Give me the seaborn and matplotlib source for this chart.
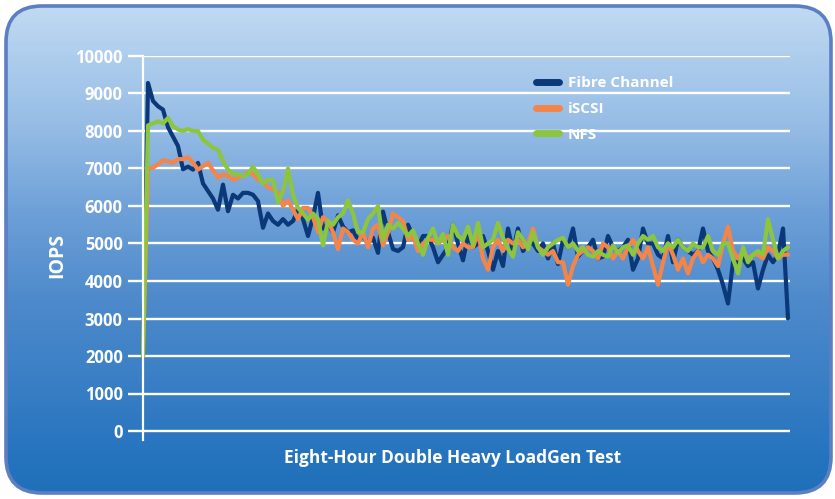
import numpy as np
import pandas as pd
import matplotlib
matplotlib.use("Agg")
import matplotlib.pyplot as plt
import seaborn as sns
from matplotlib.patches import FancyBboxPatch
from matplotlib.colors import to_rgb

# ---------------- data ----------------
series_names = ["Fibre Channel", "iSCSI", "NFS"]
series_colors = ["#0b3878", "#f4854a", "#8cc63f"]

fibre_channel = [
    2000, 9280, 8800, 8660, 8570, 8100, 7850, 7600, 6980, 7050, 6970, 7150, 6600,
    6400, 6200, 5900, 6570, 5860, 6300, 6200, 6350, 6350, 6300, 6130, 5420, 5800,
    5600, 5500, 5650, 5500, 5600, 5900, 5650, 5200, 5700, 6350, 5400, 5500, 5300,
    5750, 5450, 5300, 5350, 5100, 5200, 5000, 5150, 4750, 5850, 5300, 4850, 4800,
    4900, 5500, 5200, 4900, 5200, 5200, 4900, 4500, 4700, 4900, 5500, 5000, 4550,
    5200, 4900, 5000, 5200, 4800, 4300, 4800, 4400, 5400, 4800, 5400, 4800, 5000,
    5000, 4800, 5000, 4600, 5000, 4450, 5100, 4900, 5400, 4650, 4800, 4900, 5100,
    4600, 4650, 5200, 4900, 4800, 4900, 5100, 4300, 4600, 5400, 5000, 5000, 4700,
    4600, 5200, 4500, 5100, 4900, 4800, 4700, 4800, 5400, 4800, 4600, 4300, 3900,
    3400, 4500, 4500, 4600, 4400, 4500, 3800, 4300, 4700, 4500, 4700, 5400, 3000,
]
iscsi = [
    2000, 7000, 7020, 7110, 7220, 7200, 7150, 7250, 7250, 7300, 7150, 6970, 7060,
    7150, 6950, 6750, 6850, 6800, 6700, 6750, 6800, 6900, 6850, 6700, 6650, 6500,
    6450, 6350, 6000, 6150, 5900, 5650, 5950, 5950, 5700, 5300, 5700, 5600, 5300,
    4850, 5400, 5300, 5100, 5000, 5300, 4900, 5400, 5500, 4950, 5300, 5800, 5700,
    5600, 5100, 5200, 4800, 5000, 5100, 5100, 5000, 5100, 5200, 4900, 4800, 5000,
    4900, 4900, 5300, 4600, 4300, 4900, 5100, 4800, 5100, 5000, 5100, 4900, 5000,
    5400, 4900, 4800, 4700, 4800, 4500, 4500, 3900, 4400, 4700, 4800, 4900, 4800,
    4600, 5000, 4900, 4600, 4800, 4600, 4900, 5100, 4800, 4600, 4900, 4400, 3900,
    4500, 5000, 4700, 4300, 4600, 4200, 4600, 4800, 4500, 4700, 4600, 4400, 5000,
    5450, 4800, 4600, 4800, 4600, 4700, 4700, 4600, 4900, 4800, 4600, 4700, 4700,
]
nfs = [
    2000, 8150, 8200, 8260, 8200, 8350, 8130, 8040, 8000, 8050, 8000, 8000, 7770,
    7660, 7550, 7500, 7200, 6970, 6850, 6840, 6800, 6850, 7050, 6840, 6600, 6700,
    6700, 6100, 6400, 7000, 6300, 5950, 5800, 5640, 5800, 5650, 4950, 5600, 5500,
    5700, 5800, 6150, 5800, 5300, 5300, 5650, 5800, 6000, 5100, 5500, 5400, 5550,
    5400, 5200, 5350, 5000, 4700, 5150, 5400, 5000, 5250, 4700, 5500, 5200, 5100,
    5450, 4950, 5550, 4900, 5000, 5100, 5550, 5150, 4850, 4650, 5300, 5100, 4850,
    5300, 4900, 4700, 4900, 5000, 5100, 5150, 4900, 5000, 4800, 4900, 4700, 4650,
    4800, 4700, 4650, 4950, 4750, 4900, 4950, 4700, 5000, 5200, 5100, 5200, 4900,
    4800, 5000, 4900, 5100, 4900, 4800, 5000, 4900, 4900, 5200, 4800, 4700, 5000,
    5000, 4600, 4200, 4900, 4500, 4700, 4800, 4700, 5650, 5100, 4600, 4800, 4900,
]
y_ticks = [0, 1000, 2000, 3000, 4000, 5000, 6000, 7000, 8000, 9000, 10000]
x_label = "Eight-Hour Double Heavy LoadGen Test"
y_label = "IOPS"

sample = np.arange(len(fibre_channel))
df = pd.concat([
    pd.DataFrame({"t": sample, "IOPS": vals, "Series": name})
    for name, vals in zip(series_names, [fibre_channel, iscsi, nfs])
], ignore_index=True)

# ---------------- figure ----------------
sns.set_theme(style="white")
plt.rcParams["font.family"] = ["Open Sans", "DejaVu Sans"]
plt.rcParams["font.weight"] = "bold"

W, H = 835, 499
fig = plt.figure(figsize=(W / 100, H / 100), dpi=100)
fig.patch.set_facecolor("white")

# background panel with vertical gradient
bg = fig.add_axes([0, 0, 1, 1])
bg.set_xlim(0, W)
bg.set_ylim(H, 0)
bg.axis("off")
stops_y = [0, 40, 120, 215, 300, 380, 440, 499]
stops_c = ["#c4dcf3", "#b4d1ef", "#98bee6", "#6c9fd7", "#4d8acb",
           "#3a7fc5", "#2a76c0", "#1d6eb8"]
rows = np.arange(H)
rgb = np.array([to_rgb(c) for c in stops_c])
grad = np.stack([np.interp(rows, stops_y, rgb[:, k]) for k in range(3)], axis=-1)
grad = np.repeat(grad[:, None, :], 4, axis=1)
panel = FancyBboxPatch((6, 6), 825, 487, boxstyle="round,pad=0,rounding_size=36",
                       transform=bg.transData, facecolor="none", edgecolor="none")
bg.add_patch(panel)
im = bg.imshow(grad, extent=(0, W, H, 0), aspect="auto", zorder=0)
im.set_clip_path(panel)
border = FancyBboxPatch((6, 6), 825, 487, boxstyle="round,pad=0,rounding_size=36",
                        transform=bg.transData, facecolor="none",
                        edgecolor="#5b7fc2", linewidth=2.6, zorder=2)
bg.add_patch(border)

# main axes
ax_left, ax_right = 143, 790
y0_px, y10k_px = 431, 56
ymin = -240
ybot_px = y0_px + (0 - ymin) / 10000 * (y0_px - y10k_px)
ax = fig.add_axes([ax_left / W, 1 - ybot_px / H,
                   (ax_right - ax_left) / W, (ybot_px - y10k_px) / H])
ax.set_facecolor("none")

ax.set_ylim(ymin, 10000)
ax.set_xlim(0, (ax_right - ax_left) / 5)
ax.set_yticks(y_ticks)
ax.set_yticklabels([str(v) for v in y_ticks])
ax.set_xticks([])
ax.grid(axis="y", color="white", linewidth=1.7)
ax.grid(axis="x", visible=False)
ax.set_axisbelow(True)
for s in ["top", "right", "bottom"]:
    ax.spines[s].set_visible(False)
ax.spines["left"].set_color("white")
ax.spines["left"].set_linewidth(1.6)
ax.tick_params(axis="y", left=True, length=10.5, width=1.7, color="white",
               labelcolor="white", labelsize=12, pad=4)
for lbl in ax.get_yticklabels():
    lbl.set_fontweight("bold")

sns.lineplot(data=df, x="t", y="IOPS", hue="Series", hue_order=series_names,
             palette=series_colors, linewidth=3.0, estimator=None, sort=False,
             ax=ax, legend=True)
for ln in ax.get_lines():
    ln.set_solid_joinstyle("round")
    ln.set_clip_on(False)

ax.set_xlabel("")
ax.set_ylabel("")

leg = ax.legend(loc="upper left", bbox_to_anchor=(536 / W, 1 - 76 / H),
                bbox_transform=fig.transFigure, frameon=False,
                handlelength=1.5, handletextpad=0.6, labelspacing=0.78,
                borderpad=0, borderaxespad=0,
                prop={"family": "Open Sans", "weight": "bold", "size": 11})
for t in leg.get_texts():
    t.set_color("white")
for h in leg.get_lines():
    h.set_linewidth(5)

fig.text(453 / W, 1 - 458 / H, x_label, color="white", fontsize=12.5,
         fontweight="bold", ha="center", va="center")
fig.text(57 / W, 1 - 255 / H, y_label, color="white", fontsize=14,
         fontweight="bold", ha="center", va="center", rotation=90)

fig.savefig("out.png", dpi=100, facecolor="white")
